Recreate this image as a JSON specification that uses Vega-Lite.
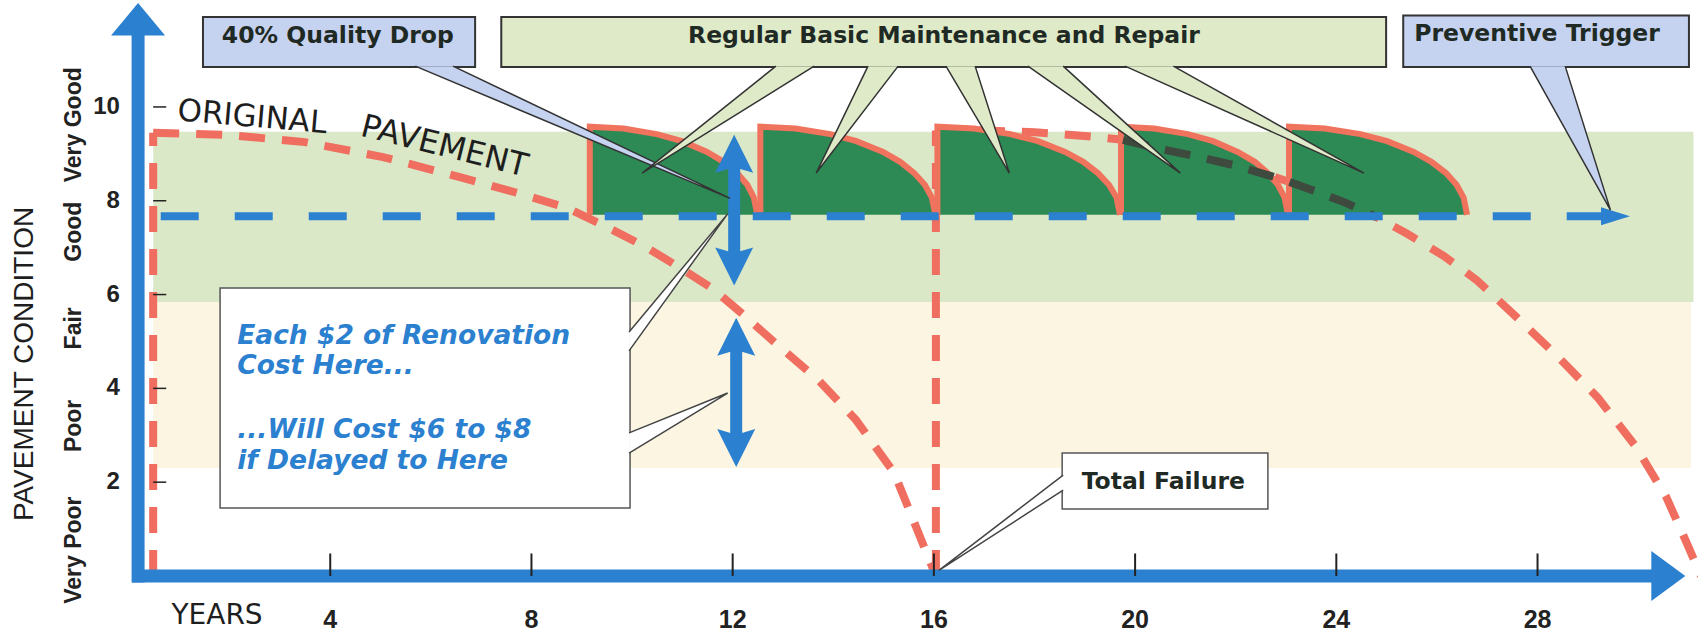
{
  "$schema": "https://vega.github.io/schema/vega-lite/v6.json",
  "width": 1698,
  "height": 634,
  "autosize": "none",
  "padding": 0,
  "background": "white",
  "config": {"view": {"stroke": null}},
  "datasets": {
    "bands": [
      {"band": "good", "t": 0.48, "t2": 31.1, "v": 5.84, "v2": 9.47},
      {"band": "fair", "t": 0.48, "t2": 31.05, "v": 2.3, "v2": 5.84}
    ],
    "curves": [
      {"curve": "original", "t": 0.48, "v": 9.45},
      {"curve": "original", "t": 2.0, "v": 9.4},
      {"curve": "original", "t": 3.5, "v": 9.25},
      {"curve": "original", "t": 5.05, "v": 8.93},
      {"curve": "original", "t": 6.56, "v": 8.51},
      {"curve": "original", "t": 7.71, "v": 8.17},
      {"curve": "original", "t": 8.7, "v": 7.85},
      {"curve": "original", "t": 9.5, "v": 7.44},
      {"curve": "original", "t": 10.28, "v": 7.01},
      {"curve": "original", "t": 11.03, "v": 6.52},
      {"curve": "original", "t": 11.6, "v": 6.13},
      {"curve": "original", "t": 12.17, "v": 5.61},
      {"curve": "original", "t": 12.94, "v": 4.88},
      {"curve": "original", "t": 13.7, "v": 4.18},
      {"curve": "original", "t": 14.45, "v": 3.33},
      {"curve": "original", "t": 15.21, "v": 2.2},
      {"curve": "original", "t": 16.04, "v": 0.0},
      {"curve": "second", "t": 16.04, "v": 9.5},
      {"curve": "second", "t": 17.0, "v": 9.5},
      {"curve": "second", "t": 18.0, "v": 9.46},
      {"curve": "second", "t": 19.0, "v": 9.38},
      {"curve": "second", "t": 19.76, "v": 9.3},
      {"curve": "second", "t": 20.44, "v": 9.12},
      {"curve": "second", "t": 21.2, "v": 8.95},
      {"curve": "second", "t": 22.0, "v": 8.75},
      {"curve": "second", "t": 22.88, "v": 8.47},
      {"curve": "second", "t": 23.6, "v": 8.2},
      {"curve": "second", "t": 24.2, "v": 7.95},
      {"curve": "second", "t": 24.8, "v": 7.65},
      {"curve": "second", "t": 25.4, "v": 7.3},
      {"curve": "second", "t": 26.14, "v": 6.82},
      {"curve": "second", "t": 26.8, "v": 6.3},
      {"curve": "second", "t": 27.6, "v": 5.5},
      {"curve": "second", "t": 28.4, "v": 4.68},
      {"curve": "second", "t": 29.2, "v": 3.8},
      {"curve": "second", "t": 29.96, "v": 2.75},
      {"curve": "second", "t": 30.56, "v": 1.68},
      {"curve": "second", "t": 31.0, "v": 0.62},
      {"curve": "second", "t": 31.25, "v": 0.0}
    ],
    "vlines": [
      {"t": 0.48, "v": 0, "v2": 9.45},
      {"t": 16.04, "v": 0, "v2": 9.5}
    ],
    "humps": [
      {"hump": 1, "i": 0, "t": 9.16, "v": 7.7}, {"hump": 1, "i": 1, "t": 9.16, "v": 9.58}, {"hump": 1, "i": 2, "t": 9.83, "v": 9.54}, {"hump": 1, "i": 3, "t": 10.49, "v": 9.42}, {"hump": 1, "i": 4, "t": 10.99, "v": 9.27}, {"hump": 1, "i": 5, "t": 11.49, "v": 9.04}, {"hump": 1, "i": 6, "t": 11.82, "v": 8.83}, {"hump": 1, "i": 7, "t": 12.09, "v": 8.59}, {"hump": 1, "i": 8, "t": 12.29, "v": 8.34}, {"hump": 1, "i": 9, "t": 12.42, "v": 8.07}, {"hump": 1, "i": 10, "t": 12.49, "v": 7.7},
      {"hump": 2, "i": 0, "t": 12.55, "v": 7.7}, {"hump": 2, "i": 1, "t": 12.55, "v": 9.58}, {"hump": 2, "i": 2, "t": 13.25, "v": 9.54}, {"hump": 2, "i": 3, "t": 13.94, "v": 9.42}, {"hump": 2, "i": 4, "t": 14.46, "v": 9.27}, {"hump": 2, "i": 5, "t": 14.99, "v": 9.04}, {"hump": 2, "i": 6, "t": 15.33, "v": 8.83}, {"hump": 2, "i": 7, "t": 15.61, "v": 8.59}, {"hump": 2, "i": 8, "t": 15.82, "v": 8.34}, {"hump": 2, "i": 9, "t": 15.96, "v": 8.07}, {"hump": 2, "i": 10, "t": 16.03, "v": 7.7},
      {"hump": 3, "i": 0, "t": 16.07, "v": 7.7}, {"hump": 3, "i": 1, "t": 16.07, "v": 9.58}, {"hump": 3, "i": 2, "t": 16.8, "v": 9.54}, {"hump": 3, "i": 3, "t": 17.52, "v": 9.42}, {"hump": 3, "i": 4, "t": 18.07, "v": 9.27}, {"hump": 3, "i": 5, "t": 18.61, "v": 9.04}, {"hump": 3, "i": 6, "t": 18.97, "v": 8.83}, {"hump": 3, "i": 7, "t": 19.26, "v": 8.59}, {"hump": 3, "i": 8, "t": 19.48, "v": 8.34}, {"hump": 3, "i": 9, "t": 19.63, "v": 8.07}, {"hump": 3, "i": 10, "t": 19.7, "v": 7.7},
      {"hump": 4, "i": 0, "t": 19.72, "v": 7.7}, {"hump": 4, "i": 1, "t": 19.72, "v": 9.58}, {"hump": 4, "i": 2, "t": 20.38, "v": 9.54}, {"hump": 4, "i": 3, "t": 21.05, "v": 9.42}, {"hump": 4, "i": 4, "t": 21.55, "v": 9.27}, {"hump": 4, "i": 5, "t": 22.04, "v": 9.04}, {"hump": 4, "i": 6, "t": 22.38, "v": 8.83}, {"hump": 4, "i": 7, "t": 22.64, "v": 8.59}, {"hump": 4, "i": 8, "t": 22.84, "v": 8.34}, {"hump": 4, "i": 9, "t": 22.97, "v": 8.07}, {"hump": 4, "i": 10, "t": 23.04, "v": 7.7},
      {"hump": 5, "i": 0, "t": 23.06, "v": 7.7}, {"hump": 5, "i": 1, "t": 23.06, "v": 9.58}, {"hump": 5, "i": 2, "t": 23.77, "v": 9.54}, {"hump": 5, "i": 3, "t": 24.48, "v": 9.42}, {"hump": 5, "i": 4, "t": 25.01, "v": 9.27}, {"hump": 5, "i": 5, "t": 25.54, "v": 9.04}, {"hump": 5, "i": 6, "t": 25.89, "v": 8.83}, {"hump": 5, "i": 7, "t": 26.18, "v": 8.59}, {"hump": 5, "i": 8, "t": 26.39, "v": 8.34}, {"hump": 5, "i": 9, "t": 26.53, "v": 8.07}, {"hump": 5, "i": 10, "t": 26.6, "v": 7.7}
    ],
    "trigger": [{"t": 0.63, "t2": 29.3, "v": 7.67}],
    "triggerHead": [{"t": 29.55, "v": 7.67}],
    "arrowShafts": [
      {"t": 12.03, "v": 6.6, "v2": 9.0},
      {"t": 12.07, "v": 2.73, "v2": 5.1}
    ],
    "arrowHeads": [
      {"t": 12.03, "v": 9.0, "dir": "up"},
      {"t": 12.03, "v": 6.6, "dir": "down"},
      {"t": 12.07, "v": 5.1, "dir": "up"},
      {"t": 12.07, "v": 2.73, "dir": "down"}
    ],
    "xAxis": [{"t": 0.06, "t2": 30.3, "v": 0}],
    "yAxis": [{"t": 0.18, "v": -0.14, "v2": 11.6}],
    "yHead": [{"t": 0.18, "v": 11.87}],
    "xHead": [{"t": 30.6, "v": 0}],
    "xticks": [
      {"t": 4, "v": 0, "label": "4"}, {"t": 8, "v": 0, "label": "8"}, {"t": 12, "v": 0, "label": "12"},
      {"t": 16, "v": 0, "label": "16"}, {"t": 20, "v": 0, "label": "20"}, {"t": 24, "v": 0, "label": "24"},
      {"t": 28, "v": 0, "label": "28"}
    ],
    "yticks": [
      {"t": 0.48, "t2": 0.74, "v": 10}, {"t": 0.48, "t2": 0.74, "v": 8}, {"t": 0.48, "t2": 0.74, "v": 6},
      {"t": 0.48, "t2": 0.74, "v": 4}, {"t": 0.48, "t2": 0.74, "v": 2}
    ],
    "ylabels": [
      {"t": -0.18, "v": 10, "label": "10"}, {"t": -0.18, "v": 8, "label": "8"}, {"t": -0.18, "v": 6, "label": "6"},
      {"t": -0.18, "v": 4, "label": "4"}, {"t": -0.18, "v": 2, "label": "2"}
    ],
    "cats": [
      {"t": -1.09, "v": 9.62, "label": "Very Good"}, {"t": -1.09, "v": 7.34, "label": "Good"}, {"t": -1.09, "v": 5.28, "label": "Fair"},
      {"t": -1.09, "v": 3.2, "label": "Poor"}, {"t": -1.09, "v": 0.55, "label": "Very Poor"}
    ],
    "titles": [
      {"kind": "y", "t": -2.07, "v": 4.52, "label": "PAVEMENT CONDITION"},
      {"kind": "x", "t": 1.75, "v": -0.85, "label": "YEARS"}
    ],
    "boxes": [
      {"box": "drop", "kind": "blue", "t": 1.47, "t2": 6.88, "v": 10.85, "v2": 11.92},
      {"box": "regular", "kind": "green", "t": 7.4, "t2": 24.99, "v": 10.85, "v2": 11.92},
      {"box": "trigger", "kind": "blue", "t": 25.33, "t2": 31.01, "v": 10.85, "v2": 11.95},
      {"box": "cost", "kind": "white", "t": 1.81, "t2": 9.96, "v": 1.45, "v2": 6.14},
      {"box": "failure", "kind": "white", "t": 18.55, "t2": 22.64, "v": 1.43, "v2": 2.62}
    ],
    "wedges": [
      {"w": "q", "kind": "blue", "i": 0, "t": 5.69, "v": 10.87}, {"w": "q", "kind": "blue", "i": 1, "t": 11.95, "v": 8.05}, {"w": "q", "kind": "blue", "i": 2, "t": 6.44, "v": 10.87},
      {"w": "g1", "kind": "green", "i": 0, "t": 12.86, "v": 10.87}, {"w": "g1", "kind": "green", "i": 1, "t": 10.2, "v": 8.59}, {"w": "g1", "kind": "green", "i": 2, "t": 13.62, "v": 10.87},
      {"w": "g2", "kind": "green", "i": 0, "t": 14.69, "v": 10.87}, {"w": "g2", "kind": "green", "i": 1, "t": 13.66, "v": 8.59}, {"w": "g2", "kind": "green", "i": 2, "t": 15.29, "v": 10.87},
      {"w": "g3", "kind": "green", "i": 0, "t": 16.24, "v": 10.87}, {"w": "g3", "kind": "green", "i": 1, "t": 17.5, "v": 8.59}, {"w": "g3", "kind": "green", "i": 2, "t": 16.82, "v": 10.87},
      {"w": "g4", "kind": "green", "i": 0, "t": 17.87, "v": 10.87}, {"w": "g4", "kind": "green", "i": 1, "t": 20.9, "v": 8.59}, {"w": "g4", "kind": "green", "i": 2, "t": 18.57, "v": 10.87},
      {"w": "g5", "kind": "green", "i": 0, "t": 19.8, "v": 10.87}, {"w": "g5", "kind": "green", "i": 1, "t": 24.55, "v": 8.59}, {"w": "g5", "kind": "green", "i": 2, "t": 20.76, "v": 10.87},
      {"w": "p", "kind": "blue", "i": 0, "t": 27.85, "v": 10.87}, {"w": "p", "kind": "blue", "i": 1, "t": 29.45, "v": 7.8}, {"w": "p", "kind": "blue", "i": 2, "t": 28.55, "v": 10.87},
      {"w": "c1", "kind": "white", "i": 0, "t": 9.94, "v": 5.2}, {"w": "c1", "kind": "white", "i": 1, "t": 11.9, "v": 7.72}, {"w": "c1", "kind": "white", "i": 2, "t": 9.94, "v": 4.8},
      {"w": "c2", "kind": "white", "i": 0, "t": 9.94, "v": 3.05}, {"w": "c2", "kind": "white", "i": 1, "t": 11.9, "v": 3.9}, {"w": "c2", "kind": "white", "i": 2, "t": 9.94, "v": 2.62},
      {"w": "f", "kind": "white", "i": 0, "t": 18.57, "v": 2.15}, {"w": "f", "kind": "white", "i": 1, "t": 16.1, "v": 0.12}, {"w": "f", "kind": "white", "i": 2, "t": 18.57, "v": 1.83}
    ],
    "boxLabels": [
      {"t": 4.15, "v": 11.52, "label": "40% Quality Drop"},
      {"t": 16.2, "v": 11.52, "label": "Regular Basic Maintenance and Repair"},
      {"t": 27.99, "v": 11.55, "label": "Preventive Trigger"},
      {"t": 20.56, "v": 2.0, "label": "Total Failure"}
    ],
    "notes": [
      {"t": 2.15, "v": 5.12, "label": "Each $2 of Renovation"},
      {"t": 2.15, "v": 4.47, "label": "Cost Here..."},
      {"t": 2.15, "v": 3.12, "label": "...Will Cost $6 to $8"},
      {"t": 2.15, "v": 2.46, "label": "if Delayed to Here"}
    ],
    "curveWords": [
      {"word": "ORIGINAL", "t": 2.45, "v": 9.77},
      {"word": "PAVEMENT", "t": 6.27, "v": 9.16}
    ]
  },
  "encoding": {
    "x": {"field": "t", "type": "quantitative", "scale": {"domain": [-2.565, 31.19], "nice": false, "zero": false}, "axis": null},
    "y": {"field": "v", "type": "quantitative", "scale": {"domain": [-1.237, 12.28], "nice": false, "zero": false}, "axis": null}
  },
  "layer": [
    {"data": {"name": "bands"}, "transform": [{"filter": "datum.band === 'good'"}], "mark": {"type": "rect", "color": "#dae8c8"}, "encoding": {"x2": {"field": "t2"}, "y2": {"field": "v2"}}},
    {"data": {"name": "bands"}, "transform": [{"filter": "datum.band === 'fair'"}], "mark": {"type": "rect", "color": "#fbf5e2"}, "encoding": {"x2": {"field": "t2"}, "y2": {"field": "v2"}}},
    {"data": {"name": "curves"}, "mark": {"type": "line", "color": "#f06e5f", "strokeWidth": 8, "strokeDash": [26, 17], "strokeCap": "butt"}, "encoding": {"detail": {"field": "curve"}}},
    {"data": {"name": "vlines"}, "mark": {"type": "rule", "color": "#f06e5f", "strokeWidth": 8, "strokeDash": [26, 17]}, "encoding": {"y2": {"field": "v2"}}},
    {"data": {"name": "humps"}, "transform": [{"filter": "datum.i > 0"}], "mark": {"type": "area", "color": "#2d8a55", "opacity": 1}, "encoding": {"y2": {"datum": 7.7}, "detail": {"field": "hump"}}},
    {"data": {"name": "humps"}, "mark": {"type": "line", "color": "#f0735e", "strokeWidth": 6, "strokeJoin": "miter"}, "encoding": {"detail": {"field": "hump"}, "order": {"field": "i"}}},
    {"data": {"name": "curves"}, "transform": [{"filter": "datum.curve === 'second' && datum.t >= 19.7 && datum.t <= 24.85"}], "mark": {"type": "line", "color": "#3e4a3e", "strokeWidth": 8, "strokeDash": [26, 17], "strokeCap": "butt"}},
    {"data": {"name": "trigger"}, "mark": {"type": "rule", "color": "#2b80d0", "strokeWidth": 8, "strokeDash": [38, 36]}, "encoding": {"x2": {"field": "t2"}}},
    {"data": {"name": "triggerHead"}, "mark": {"type": "point", "shape": "M-1,-0.62L1,0L-1,0.62Z", "size": 841, "filled": true, "color": "#2b80d0", "opacity": 1}},
    {"data": {"name": "arrowShafts"}, "mark": {"type": "rule", "color": "#2b80d0", "strokeWidth": 12}, "encoding": {"y2": {"field": "v2"}}},
    {"data": {"name": "arrowHeads"}, "transform": [{"filter": "datum.dir === 'up'"}], "mark": {"type": "point", "shape": "M0,-1L1,1L0,0.7L-1,1Z", "size": 1444, "filled": true, "color": "#2b80d0", "opacity": 1}},
    {"data": {"name": "arrowHeads"}, "transform": [{"filter": "datum.dir === 'down'"}], "mark": {"type": "point", "shape": "M0,1L1,-1L0,-0.7L-1,-1Z", "size": 1444, "filled": true, "color": "#2b80d0", "opacity": 1}},
    {"data": {"name": "xAxis"}, "mark": {"type": "rule", "color": "#2b80d0", "strokeWidth": 13}, "encoding": {"x2": {"field": "t2"}}},
    {"data": {"name": "yAxis"}, "mark": {"type": "rule", "color": "#2b80d0", "strokeWidth": 13}, "encoding": {"y2": {"field": "v2"}}},
    {"data": {"name": "yHead"}, "mark": {"type": "point", "shape": "M-1,0.6L0,-0.6L1,0.6Z", "size": 2916, "filled": true, "color": "#2b80d0", "opacity": 1}},
    {"data": {"name": "xHead"}, "mark": {"type": "point", "shape": "M-0.68,-1L0.68,0L-0.68,1Z", "size": 2500, "filled": true, "color": "#2b80d0", "opacity": 1}},
    {"data": {"name": "xticks"}, "mark": {"type": "rule", "color": "#222", "strokeWidth": 2}, "encoding": {"y2": {"datum": 0.48}}},
    {"data": {"name": "yticks"}, "mark": {"type": "rule", "color": "#222", "strokeWidth": 1.5}, "encoding": {"x2": {"field": "t2"}}},
    {"data": {"name": "xticks"}, "mark": {"type": "text", "font": "Liberation Sans, Arial, sans-serif", "fontWeight": "bold", "fontSize": 25, "color": "#222", "align": "center", "baseline": "middle"}, "encoding": {"y": {"datum": -0.93}, "text": {"field": "label"}}},
    {"data": {"name": "ylabels"}, "mark": {"type": "text", "font": "Liberation Sans, Arial, sans-serif", "fontWeight": "bold", "fontSize": 24, "color": "#222", "align": "right", "baseline": "middle"}, "encoding": {"text": {"field": "label"}}},
    {"data": {"name": "cats"}, "mark": {"type": "text", "font": "Liberation Sans Narrow, Liberation Sans, sans-serif", "fontWeight": "bold", "fontSize": 23, "color": "#222", "align": "center", "baseline": "middle", "angle": 270}, "encoding": {"text": {"field": "label"}}},
    {"data": {"name": "titles"}, "transform": [{"filter": "datum.kind === 'y'"}], "mark": {"type": "text", "font": "Liberation Sans, Arial, sans-serif", "fontSize": 28, "color": "#1e1e1e", "align": "center", "baseline": "middle", "angle": 270}, "encoding": {"text": {"field": "label"}}},
    {"data": {"name": "titles"}, "transform": [{"filter": "datum.kind === 'x'"}], "mark": {"type": "text", "font": "DejaVu Sans, sans-serif", "fontSize": 28, "color": "#1e1e1e", "align": "center", "baseline": "middle"}, "encoding": {"text": {"field": "label"}}},
    {"data": {"name": "boxes"}, "transform": [{"filter": "datum.kind === 'blue'"}], "mark": {"type": "rect", "fill": "#c6d3f0", "stroke": "#333", "strokeWidth": 2}, "encoding": {"x2": {"field": "t2"}, "y2": {"field": "v2"}}},
    {"data": {"name": "boxes"}, "transform": [{"filter": "datum.kind === 'green'"}], "mark": {"type": "rect", "fill": "#dfeac9", "stroke": "#333", "strokeWidth": 2}, "encoding": {"x2": {"field": "t2"}, "y2": {"field": "v2"}}},
    {"data": {"name": "boxes"}, "transform": [{"filter": "datum.kind === 'white'"}], "mark": {"type": "rect", "fill": "#ffffff", "stroke": "#555", "strokeWidth": 1.5}, "encoding": {"x2": {"field": "t2"}, "y2": {"field": "v2"}}},
    {"data": {"name": "wedges"}, "transform": [{"filter": "datum.kind === 'blue'"}], "mark": {"type": "line", "fill": "#c6d3f0", "stroke": "#333", "strokeWidth": 1.5}, "encoding": {"detail": {"field": "w"}, "order": {"field": "i"}}},
    {"data": {"name": "wedges"}, "transform": [{"filter": "datum.kind === 'green'"}], "mark": {"type": "line", "fill": "#dfeac9", "stroke": "#333", "strokeWidth": 1.5}, "encoding": {"detail": {"field": "w"}, "order": {"field": "i"}}},
    {"data": {"name": "wedges"}, "transform": [{"filter": "datum.kind === 'white'"}], "mark": {"type": "line", "fill": "#ffffff", "stroke": "#444", "strokeWidth": 1.5}, "encoding": {"detail": {"field": "w"}, "order": {"field": "i"}}},
    {"data": {"name": "boxLabels"}, "mark": {"type": "text", "font": "DejaVu Sans, sans-serif", "fontWeight": "bold", "fontSize": 23.5, "color": "#1f2a24", "align": "center", "baseline": "middle"}, "encoding": {"text": {"field": "label"}}},
    {"data": {"name": "notes"}, "mark": {"type": "text", "font": "DejaVu Sans, sans-serif", "fontWeight": "bold", "fontStyle": "italic", "fontSize": 26.5, "color": "#2b80d0", "align": "left", "baseline": "middle"}, "encoding": {"text": {"field": "label"}}},
    {"data": {"name": "curveWords"}, "transform": [{"filter": "datum.word === 'ORIGINAL'"}], "mark": {"type": "text", "font": "DejaVu Sans, sans-serif", "fontSize": 31, "color": "#1e1e1e", "align": "center", "baseline": "middle", "angle": 5}, "encoding": {"text": {"field": "word"}}},
    {"data": {"name": "curveWords"}, "transform": [{"filter": "datum.word === 'PAVEMENT'"}], "mark": {"type": "text", "font": "DejaVu Sans, sans-serif", "fontSize": 32, "color": "#1e1e1e", "align": "center", "baseline": "middle", "angle": 14}, "encoding": {"text": {"field": "word"}}}
  ]
}
